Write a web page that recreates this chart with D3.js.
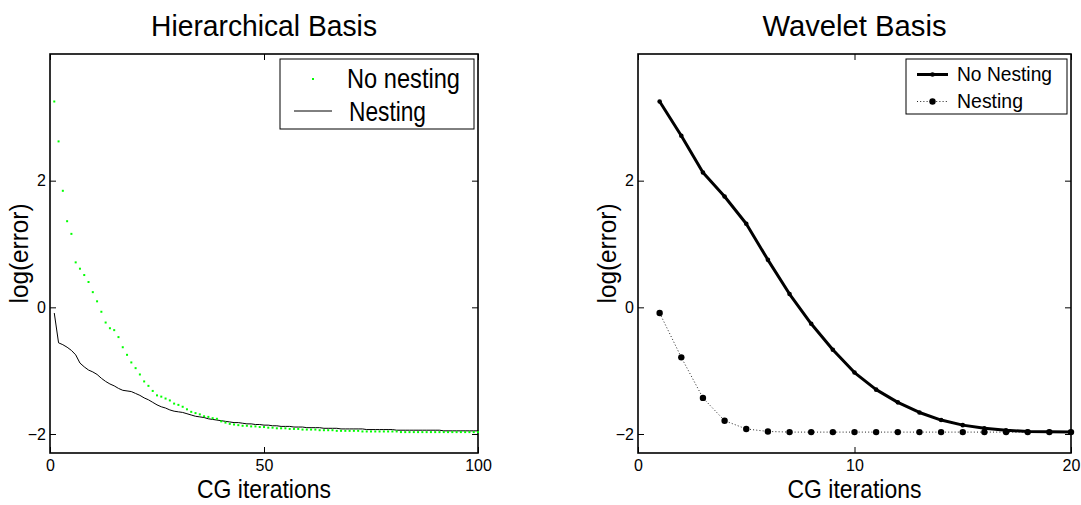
<!DOCTYPE html>
<html>
<head>
<meta charset="utf-8">
<script src="https://cdn.jsdelivr.net/npm/d3@7"></script>
<style>
  body { margin: 0; background: #fff; }
  text { font-family: "Liberation Sans", Arial, Helvetica, sans-serif; fill: #000; }
</style>
</head>
<body>
<svg id="chart" width="1081" height="505"></svg>
<script>
// ---- data: log(error) per CG iteration ----
// Hierarchical basis, iterations 1..100
const hbNoNesting = [
  3.25, 2.62, 1.84, 1.36, 1.16, 0.71, 0.61, 0.51, 0.40, 0.24,
  0.095, -0.07, -0.24, -0.33, -0.36, -0.47, -0.63, -0.75, -0.87, -0.96,
  -1.06, -1.17, -1.24, -1.32, -1.39, -1.41, -1.44, -1.47, -1.52, -1.54,
  -1.57, -1.61, -1.65, -1.67, -1.69, -1.72, -1.73, -1.75, -1.76, -1.80,
  -1.82, -1.84, -1.85, -1.86, -1.87, -1.87, -1.88, -1.88, -1.89, -1.89,
  -1.90, -1.90, -1.91, -1.91, -1.91, -1.92, -1.92, -1.92, -1.93, -1.93,
  -1.93, -1.93, -1.94, -1.94, -1.94, -1.94, -1.95, -1.95, -1.95, -1.95,
  -1.95, -1.95, -1.96, -1.96, -1.96, -1.96, -1.96, -1.96, -1.96, -1.96,
  -1.96, -1.97, -1.97, -1.97, -1.97, -1.97, -1.97, -1.97, -1.97, -1.97,
  -1.97, -1.97, -1.97, -1.97, -1.97, -1.97, -1.97, -1.97, -1.97, -1.97
];
const hbNesting = [
  -0.09, -0.56, -0.59, -0.63, -0.68, -0.75, -0.88, -0.94, -0.99, -1.02,
  -1.06, -1.12, -1.17, -1.21, -1.24, -1.28, -1.31, -1.32, -1.33, -1.36,
  -1.39, -1.43, -1.46, -1.50, -1.54, -1.57, -1.59, -1.62, -1.64, -1.65,
  -1.66, -1.68, -1.70, -1.72, -1.73, -1.74, -1.76, -1.77, -1.78, -1.79,
  -1.80, -1.81, -1.82, -1.82, -1.83, -1.84, -1.84, -1.85, -1.85, -1.86,
  -1.86, -1.87, -1.87, -1.88, -1.88, -1.88, -1.89, -1.89, -1.89, -1.90,
  -1.90, -1.90, -1.90, -1.91, -1.91, -1.91, -1.91, -1.92, -1.92, -1.92,
  -1.92, -1.92, -1.92, -1.93, -1.93, -1.93, -1.93, -1.93, -1.93, -1.93,
  -1.94, -1.94, -1.94, -1.94, -1.94, -1.94, -1.94, -1.94, -1.94, -1.94,
  -1.94, -1.95, -1.95, -1.95, -1.95, -1.95, -1.95, -1.95, -1.95, -1.95
];
// Wavelet basis, iterations 1..20
const wbNoNesting = [
  3.25, 2.71, 2.13, 1.75, 1.32, 0.75, 0.21, -0.26, -0.67, -1.03,
  -1.30, -1.50, -1.66, -1.78, -1.86, -1.91, -1.94, -1.96, -1.965, -1.97
];
const wbNesting = [
  -0.09, -0.79, -1.43, -1.79, -1.92, -1.96, -1.97, -1.97, -1.97, -1.97,
  -1.97, -1.97, -1.97, -1.97, -1.97, -1.97, -1.97, -1.97, -1.97, -1.97
];

const yTicks = [-2, 0, 2];
const hbXTicks = [0, 50, 100];
const wbXTicks = [0, 10, 20];
const yDomain = [-2.3, 4];

const svg = d3.select("#chart");
const plotTop = 54, plotBottom = 453;
const fmt = d3.format("d");

function panel(opts) {
  const g = svg.append("g");
  const x = d3.scaleLinear().domain(opts.xDomain).range([opts.left, opts.right]);
  const y = d3.scaleLinear().domain(yDomain).range([plotBottom, plotTop]);
  const tick = 6;

  // axes with inward ticks on all four sides
  g.append("g").attr("transform", `translate(0,${plotBottom})`)
    .call(d3.axisBottom(x).tickValues(opts.xTicks).tickSize(-tick).tickPadding(7).tickFormat(fmt));
  g.append("g").attr("transform", `translate(0,${plotTop})`)
    .call(d3.axisTop(x).tickValues(opts.xTicks).tickSize(-tick).tickFormat(""));
  g.append("g").attr("transform", `translate(${opts.left},0)`)
    .call(d3.axisLeft(y).tickValues(yTicks).tickSize(-tick).tickPadding(4).tickFormat(fmt));
  g.append("g").attr("transform", `translate(${opts.right},0)`)
    .call(d3.axisRight(y).tickValues(yTicks).tickSize(-tick).tickFormat(""));
  g.selectAll(".domain").remove();
  g.selectAll(".tick line").attr("stroke", "#000").attr("stroke-width", 1);
  g.selectAll(".tick text").style("font-size", "16px")
    .style("font-family", '"Liberation Sans", Arial, sans-serif');

  // box
  g.append("rect")
    .attr("x", opts.left).attr("y", plotTop)
    .attr("width", opts.right - opts.left).attr("height", plotBottom - plotTop)
    .attr("fill", "none").attr("stroke", "#000").attr("stroke-width", 1.6);

  // titles and labels
  const cx = (opts.left + opts.right) / 2;
  g.append("text").attr("x", cx).attr("y", 36).attr("text-anchor", "middle")
    .style("font-size", "30px").attr("textLength", opts.titleLen)
    .attr("lengthAdjust", "spacingAndGlyphs").text(opts.title);
  g.append("text").attr("x", cx).attr("y", 498).attr("text-anchor", "middle")
    .style("font-size", "26px").attr("textLength", 134)
    .attr("lengthAdjust", "spacingAndGlyphs").text("CG iterations");
  g.append("text")
    .attr("transform", `translate(${opts.left - 22},${(plotTop + plotBottom) / 2}) rotate(-90)`)
    .attr("text-anchor", "middle").style("font-size", "25px")
    .attr("textLength", 100).attr("lengthAdjust", "spacingAndGlyphs").text("log(error)");

  return { g, x, y };
}

// ---- Hierarchical Basis ----
const p1 = panel({
  left: 50, right: 478, xDomain: [0, 100], xTicks: hbXTicks,
  title: "Hierarchical Basis", titleLen: 226
});
p1.g.append("path")
  .datum(hbNesting)
  .attr("fill", "none").attr("stroke", "#000").attr("stroke-width", 1)
  .attr("d", d3.line().x((d, i) => p1.x(i + 1)).y(d => p1.y(d)));
p1.g.selectAll("rect.nn").data(hbNoNesting).join("rect")
  .attr("class", "nn")
  .attr("x", (d, i) => p1.x(i + 1) - 1).attr("y", d => p1.y(d) - 1)
  .attr("width", 2).attr("height", 2).attr("fill", "#00ff00");

// legend
const l1 = p1.g.append("g");
l1.append("rect").attr("x", 280).attr("y", 59).attr("width", 194).attr("height", 70)
  .attr("fill", "#fff").attr("stroke", "#000").attr("stroke-width", 1);
l1.append("rect").attr("x", 312).attr("y", 78).attr("width", 2).attr("height", 2).attr("fill", "#00ff00");
l1.append("line").attr("x1", 294).attr("x2", 332).attr("y1", 111).attr("y2", 111)
  .attr("stroke", "#000").attr("stroke-width", 1);
l1.append("text").attr("x", 347).attr("y", 88).style("font-size", "28px")
  .attr("textLength", 113).attr("lengthAdjust", "spacingAndGlyphs").text("No nesting");
l1.append("text").attr("x", 349).attr("y", 121).style("font-size", "28px")
  .attr("textLength", 77).attr("lengthAdjust", "spacingAndGlyphs").text("Nesting");

// ---- Wavelet Basis ----
const p2 = panel({
  left: 638, right: 1071, xDomain: [0, 20], xTicks: wbXTicks,
  title: "Wavelet Basis", titleLen: 184
});
p2.g.append("path")
  .datum(wbNesting)
  .attr("fill", "none").attr("stroke", "#222").attr("stroke-width", 1)
  .attr("stroke-dasharray", "1,2.2")
  .attr("d", d3.line().x((d, i) => p2.x(i + 1)).y(d => p2.y(d)));
p2.g.selectAll("circle.wn").data(wbNesting).join("circle")
  .attr("class", "wn")
  .attr("cx", (d, i) => p2.x(i + 1)).attr("cy", d => p2.y(d)).attr("r", 3.2).attr("fill", "#000");
p2.g.append("path")
  .datum(wbNoNesting)
  .attr("fill", "none").attr("stroke", "#000").attr("stroke-width", 3)
  .attr("stroke-linejoin", "round")
  .attr("d", d3.line().x((d, i) => p2.x(i + 1)).y(d => p2.y(d)));
p2.g.selectAll("circle.wnn").data(wbNoNesting).join("circle")
  .attr("class", "wnn")
  .attr("cx", (d, i) => p2.x(i + 1)).attr("cy", d => p2.y(d)).attr("r", 2.3).attr("fill", "#000");

// legend
const l2 = p2.g.append("g");
l2.append("rect").attr("x", 906).attr("y", 59).attr("width", 161).attr("height", 55)
  .attr("fill", "#fff").attr("stroke", "#000").attr("stroke-width", 1);
l2.append("line").attr("x1", 917).attr("x2", 948).attr("y1", 74.5).attr("y2", 74.5)
  .attr("stroke", "#000").attr("stroke-width", 3);
l2.append("circle").attr("cx", 932.5).attr("cy", 74.5).attr("r", 2.3).attr("fill", "#000");
l2.append("line").attr("x1", 917).attr("x2", 948).attr("y1", 101.5).attr("y2", 101.5)
  .attr("stroke", "#222").attr("stroke-width", 1).attr("stroke-dasharray", "1,2.2");
l2.append("circle").attr("cx", 932.5).attr("cy", 101.5).attr("r", 3.2).attr("fill", "#000");
l2.append("text").attr("x", 957).attr("y", 81).style("font-size", "21px")
  .attr("textLength", 95).attr("lengthAdjust", "spacingAndGlyphs").text("No Nesting");
l2.append("text").attr("x", 957).attr("y", 108).style("font-size", "21px")
  .attr("textLength", 66).attr("lengthAdjust", "spacingAndGlyphs").text("Nesting");
</script>
</body>
</html>
